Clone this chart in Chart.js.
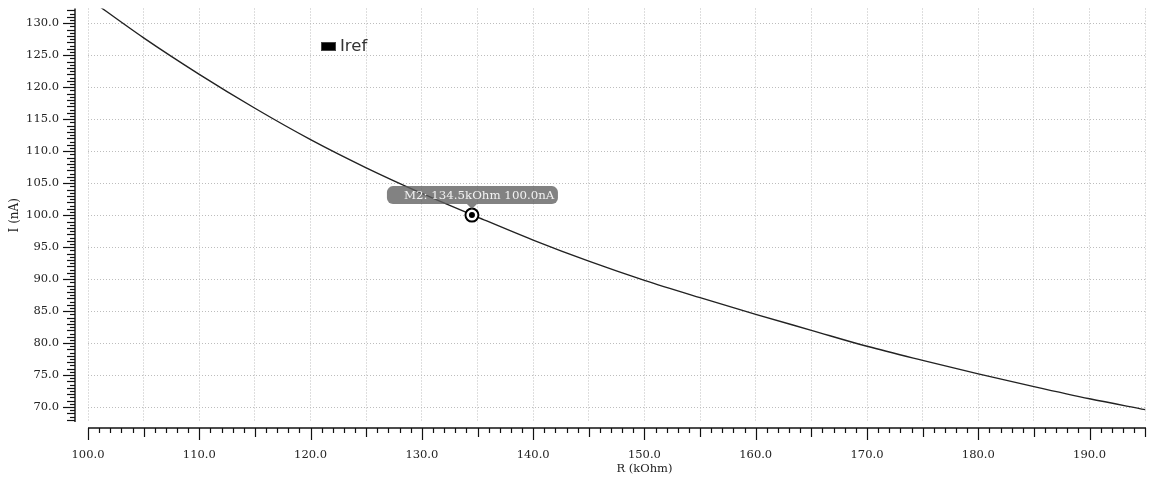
<!DOCTYPE html>
<html>
<head>
<meta charset="utf-8">
<script src="https://cdn.jsdelivr.net/npm/chart.js@4/dist/chart.umd.min.js"></script>
<style>
  html, body { margin: 0; padding: 0; background: #fff; }
  #wrap { width: 1155px; height: 480px; }
</style>
</head>
<body>
<div id="wrap"><canvas id="c" width="1155" height="480"></canvas></div>
<script>
// valores
const resistanceK = [100, 105, 110, 115, 120, 125, 130, 135, 140, 145, 150, 155, 160, 165, 170, 175, 180, 185, 190, 195];
const irefNa = [133.9, 127.7, 122.0, 116.7, 111.8, 107.4, 103.4, 99.7, 96.1, 92.8, 89.8, 87.1, 84.5, 82.0, 79.5, 77.3, 75.2, 73.2, 71.3, 69.6];
const markerR = [134.5];
const markerI = [100.0];
const markerName = "M2";
const seriesName = "Iref";

const X_MIN = 100, X_MAX = 195.07;
const Y_MIN = 67.67, Y_MAX = 132.29;

const SERIF = "'DejaVu Serif', 'Liberation Serif', serif";
const SANS = "'DejaVu Sans', 'Noto Sans', sans-serif";
const FONT_SIZE = 11.5;

// eixos deslocados da área do gráfico, com ticks menores
const axesPlugin = {
  id: "offsetAxes",
  afterDraw(chart) {
    const { ctx, chartArea: a } = chart;
    const xs = chart.scales.x, ys = chart.scales.y;
    ctx.save();
    ctx.strokeStyle = "#111";
    ctx.lineWidth = 1.4;

    // eixo y
    const ax = a.left - 13;
    ctx.beginPath();
    ctx.moveTo(ax, a.top);
    ctx.lineTo(ax, a.bottom);
    ctx.stroke();
    ctx.lineWidth = 1.2;
    for (let v = Math.ceil(ys.min * 2) / 2; v <= ys.max; v += 0.5) {
      const py = Math.round(ys.getPixelForValue(v)) + 0.5;
      const len = v % 5 === 0 ? 12 : (v % 1 === 0 ? 8 : 5);
      ctx.beginPath();
      ctx.moveTo(ax - len, py);
      ctx.lineTo(ax, py);
      ctx.stroke();
    }

    // eixo x
    const ay = a.bottom + 6;
    ctx.lineWidth = 1.4;
    ctx.beginPath();
    ctx.moveTo(a.left, ay);
    ctx.lineTo(a.right, ay);
    ctx.stroke();
    ctx.lineWidth = 1.2;
    for (let v = Math.ceil(xs.min); v <= xs.max; v += 1) {
      const px = Math.round(xs.getPixelForValue(v)) + 0.5;
      const len = v % 10 === 0 ? 12 : (v % 5 === 0 ? 9 : 5);
      ctx.beginPath();
      ctx.moveTo(px, ay);
      ctx.lineTo(px, ay + len);
      ctx.stroke();
    }

    // título do eixo x
    ctx.fillStyle = "#222";
    ctx.font = FONT_SIZE + "px " + SERIF;
    ctx.textAlign = "center";
    ctx.textBaseline = "middle";
    ctx.fillText("R (kOhm)", xs.getPixelForValue(150), 469);
    ctx.restore();
  },
};

// marcador M2 e legenda
const markerPlugin = {
  id: "markerLabel",
  afterDatasetsDraw(chart) {
    const { ctx } = chart;
    const meta = chart.getDatasetMeta(0);
    const pt = meta.data[0];
    if (!pt) return;
    const px = pt.x, py = pt.y;
    ctx.save();

    ctx.fillStyle = "#000";
    ctx.beginPath();
    ctx.arc(px, py, 3, 0, Math.PI * 2);
    ctx.fill();

    const ds = chart.data.datasets[0];
    const bx = px - 85, by = py - 29, bw = 171, bh = 18;
    ctx.fillStyle = "rgba(95,95,95,0.78)";
    ctx.beginPath();
    ctx.roundRect(bx, by, bw, bh, 6);
    ctx.fill();
    ctx.beginPath();
    ctx.moveTo(px - 5, by + bh);
    ctx.lineTo(px + 5, by + bh);
    ctx.lineTo(px, by + bh + 5);
    ctx.closePath();
    ctx.fill();

    ctx.fillStyle = "#f2f2f2";
    ctx.font = "11.8px " + SERIF;
    ctx.textAlign = "left";
    ctx.textBaseline = "middle";
    const d = ds.data[0];
    ctx.fillText(`${markerName}: ${d.x.toFixed(1)}kOhm ${d.y.toFixed(1)}nA`, bx + 17, by + bh / 2 + 0.5);

    // legenda
    const lx = 321, ly = 42;
    ctx.fillStyle = "#000";
    ctx.fillRect(lx, ly, 15, 9);
    ctx.strokeStyle = "#444";
    ctx.lineWidth = 1;
    ctx.strokeRect(lx + 0.5, ly + 0.5, 14, 8);
    ctx.fillStyle = "#333";
    ctx.font = "16.5px " + SANS;
    ctx.fillText(chart.data.datasets[1].label, lx + 19, ly + 5);
    ctx.restore();
  },
};

const ctx = document.getElementById("c").getContext("2d");
new Chart(ctx, {
  type: "scatter",
  data: {
    datasets: [
      {
        label: markerName,
        data: markerR.map((r, i) => ({ x: r, y: markerI[i] })),
        showLine: false,
        pointRadius: 6.5,
        pointBorderWidth: 2,
        pointBorderColor: "#000",
        pointBackgroundColor: "#fff",
        order: 0,
      },
      {
        label: seriesName,
        data: resistanceK.map((r, i) => ({ x: r, y: irefNa[i] })),
        showLine: true,
        borderColor: "#222",
        borderWidth: 1.4,
        pointRadius: 0,
        cubicInterpolationMode: "monotone",
        order: 1,
      },
    ],
  },
  options: {
    responsive: false,
    animation: false,
    layout: { padding: { left: 0, right: 9, top: 7, bottom: 0 } },
    plugins: {
      legend: { display: false },
      tooltip: { enabled: false },
    },
    scales: {
      x: {
        type: "linear",
        min: X_MIN,
        max: X_MAX,
        afterFit(scale) {
          scale.height = 58;
          scale.paddingLeft = 0;
          scale.paddingRight = 0;
        },
        grid: { color: "#bdbdbd", lineWidth: 1, drawTicks: false },
        border: { display: false, dash: [1, 2] },
        ticks: {
          stepSize: 5,
          includeBounds: false,
          autoSkip: false,
          maxRotation: 0,
          padding: 26,
          color: "#222",
          font: { family: SERIF, size: FONT_SIZE },
          callback: (v) => (v % 10 === 0 ? v.toFixed(1) : ""),
        },
      },
      y: {
        type: "linear",
        min: Y_MIN,
        max: Y_MAX,
        afterFit(scale) {
          scale.width = 88;
          scale.paddingTop = 0;
          scale.paddingBottom = 0;
        },
        grid: { color: "#bdbdbd", lineWidth: 1, drawTicks: false },
        border: { display: false, dash: [1, 2] },
        title: {
          display: true,
          text: "I (nA)",
          color: "#222",
          font: { family: SERIF, size: 12 },
          padding: { top: 8, bottom: 0 },
        },
        ticks: {
          stepSize: 5,
          includeBounds: false,
          autoSkip: false,
          padding: 29,
          color: "#222",
          font: { family: SERIF, size: FONT_SIZE },
          callback: (v) => v.toFixed(1),
        },
      },
    },
  },
  plugins: [axesPlugin, markerPlugin],
});
</script>
</body>
</html>
